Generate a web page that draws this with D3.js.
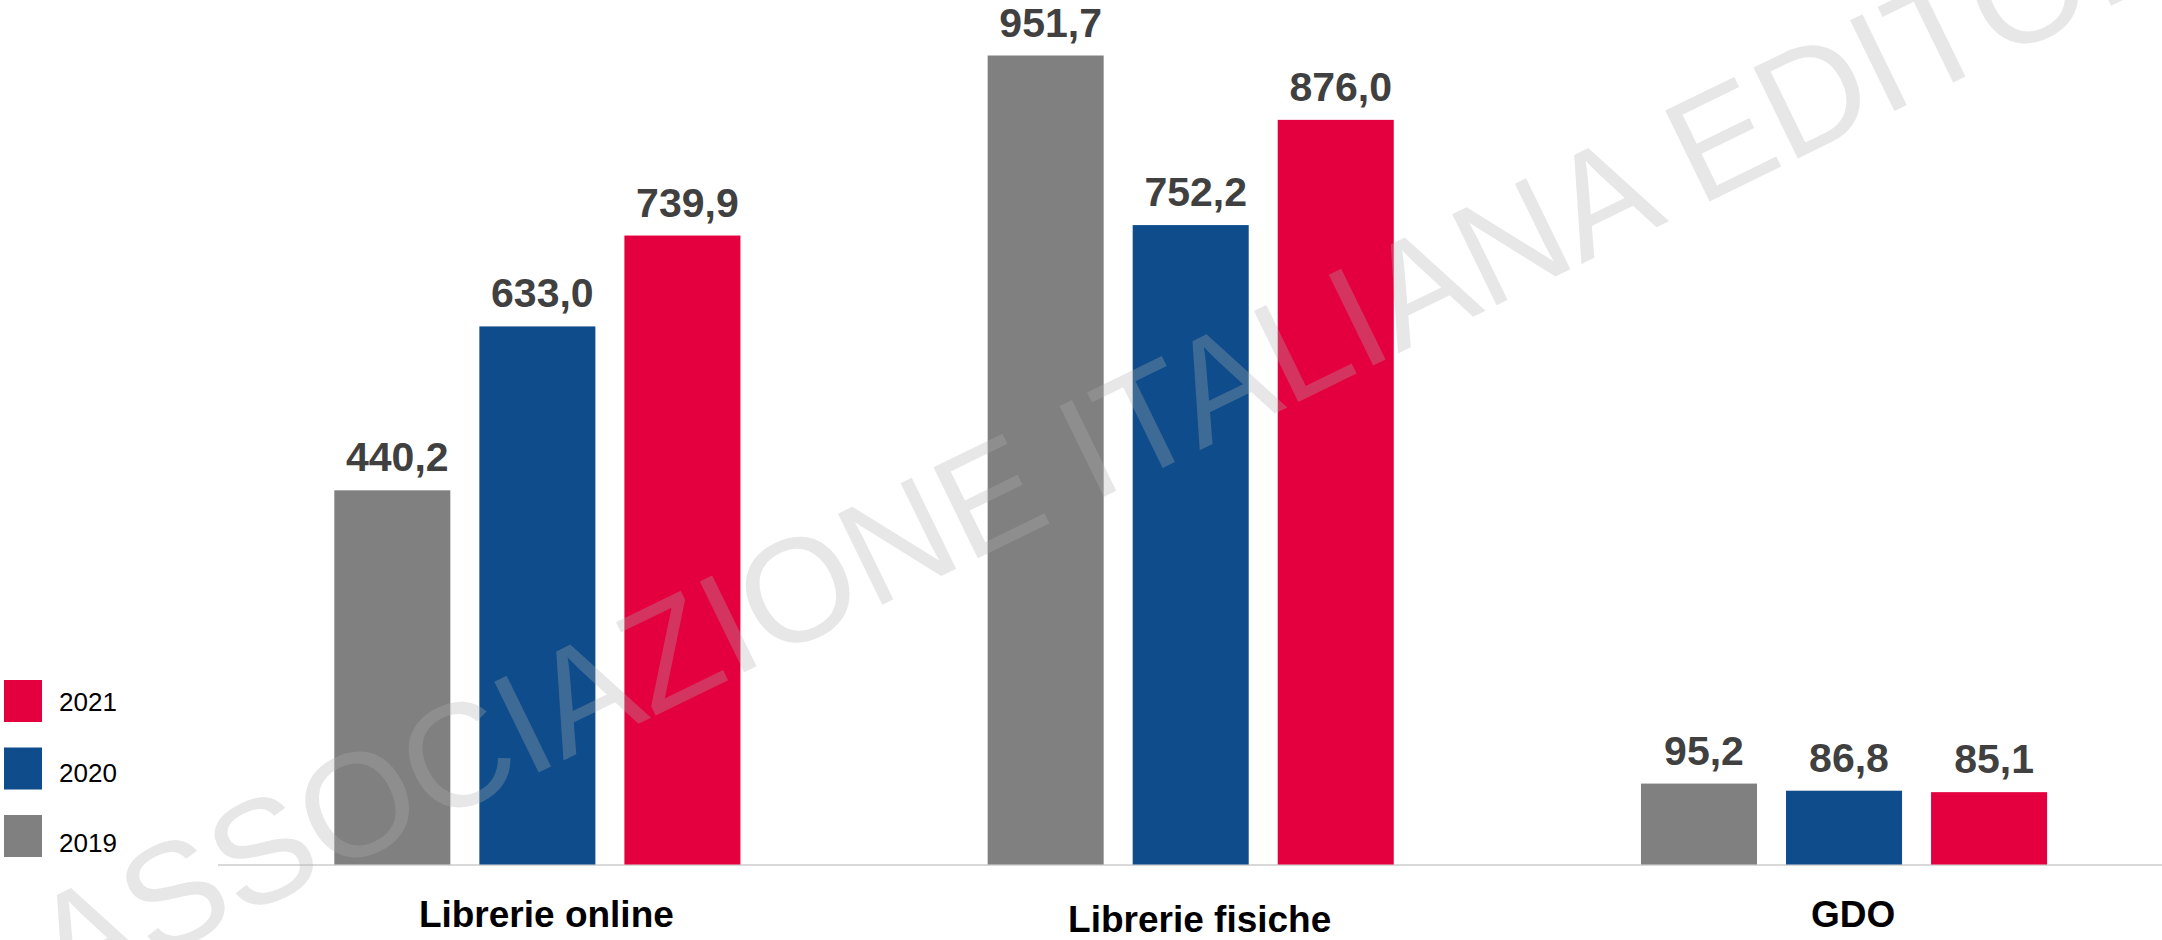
<!DOCTYPE html>
<html>
<head>
<meta charset="utf-8">
<script src="https://cdn.jsdelivr.net/npm/d3@7"></script>
<style>
  body { margin: 0; background: #fff; }
  svg { display: block; font-family: "Liberation Sans", Arial, sans-serif; }
</style>
</head>
<body>
<svg id="chart"></svg>
<script>
const categories = ["Librerie online", "Librerie fisiche", "GDO"];
const years = ["2019", "2020", "2021"];
const values2019 = [440.2, 951.7, 95.2];
const values2020 = [633.0, 752.2, 86.8];
const values2021 = [739.9, 876.0, 85.1];
const yearColors = ["#808080", "#0e4c8b", "#e4003e"];
const legendOrder = ["2021", "2020", "2019"];
const watermark = "ASSOCIAZIONE ITALIANA EDITORI";

const width = 2162;
const height = 940;
const baseline = 864.5;

const series = [values2019, values2020, values2021];
const rows = categories.map((c, i) => ({
  category: c,
  values: years.map((y, j) => ({ year: y, value: series[j][i] }))
}));

const it = d3.formatLocale({ decimal: ",", thousands: ".", grouping: [3], currency: ["€", ""] });
const fmt = it.format(".1f");

const svg = d3.select("#chart").attr("width", width).attr("height", height);
svg.append("rect").attr("width", width).attr("height", height).attr("fill", "#fff");

const x0 = d3.scaleBand()
  .domain(categories)
  .range([210.7, 2170.7])
  .paddingInner(0.334)
  .paddingOuter(0.167);

const x1 = d3.scaleBand()
  .domain(years)
  .range([0, x0.bandwidth()])
  .paddingInner(0.2)
  .paddingOuter(0.1);

const y = d3.scaleLinear().domain([0, 1017]).range([baseline, 0]);
const color = d3.scaleOrdinal().domain(years).range(yearColors);

// axis line
svg.append("line")
  .attr("x1", 218).attr("x2", width)
  .attr("y1", baseline + 0.5).attr("y2", baseline + 0.5)
  .attr("stroke", "#d9d9d9").attr("stroke-width", 2);

const groups = svg.selectAll("g.group")
  .data(rows)
  .enter()
  .append("g")
  .attr("class", "group")
  .attr("transform", (d) => `translate(${x0(d.category)},0)`);

groups.selectAll("rect")
  .data((d) => d.values)
  .enter()
  .append("rect")
  .attr("x", (d) => x1(d.year))
  .attr("y", (d) => y(d.value))
  .attr("width", x1.bandwidth())
  .attr("height", (d) => baseline - y(d.value))
  .attr("fill", (d) => color(d.year));

groups.selectAll("text.value")
  .data((d) => d.values)
  .enter()
  .append("text")
  .attr("class", "value")
  .attr("x", (d) => x1(d.year) + x1.bandwidth() / 2 + 5)
  .attr("y", (d) => y(d.value) - 19)
  .attr("text-anchor", "middle")
  .attr("font-size", 41)
  .attr("font-weight", "bold")
  .attr("fill", "#404040")
  .text((d) => fmt(d.value));

// category labels
svg.selectAll("text.cat")
  .data(categories)
  .enter()
  .append("text")
  .attr("class", "cat")
  .attr("x", (d) => x0(d) + x0.bandwidth() / 2 + 9)
  .attr("y", (d, i) => (i === 1 ? 932 : 927))
  .attr("text-anchor", "middle")
  .attr("font-size", 37)
  .attr("font-weight", "bold")
  .attr("fill", "#000")
  .text((d) => d);

// legend
const legend = svg.append("g").attr("class", "legend");
const items = legend.selectAll("g")
  .data(legendOrder)
  .enter()
  .append("g")
  .attr("transform", (d, i) => `translate(4,${680 + i * 67.5})`);

items.append("rect")
  .attr("width", 38)
  .attr("height", 42)
  .attr("fill", (d) => color(d));

items.append("text")
  .attr("x", 55)
  .attr("y", (d, i) => 31 + i * 3)
  .attr("font-size", 26)
  .attr("fill", "#000")
  .text((d) => d);

// watermark
svg.append("text")
  .attr("transform", "translate(64,1004) rotate(-26)")
  .attr("font-size", 147)
  .attr("fill", "#b0b0b0")
  .attr("fill-opacity", 0.3)
  .text(watermark);
</script>
</body>
</html>
